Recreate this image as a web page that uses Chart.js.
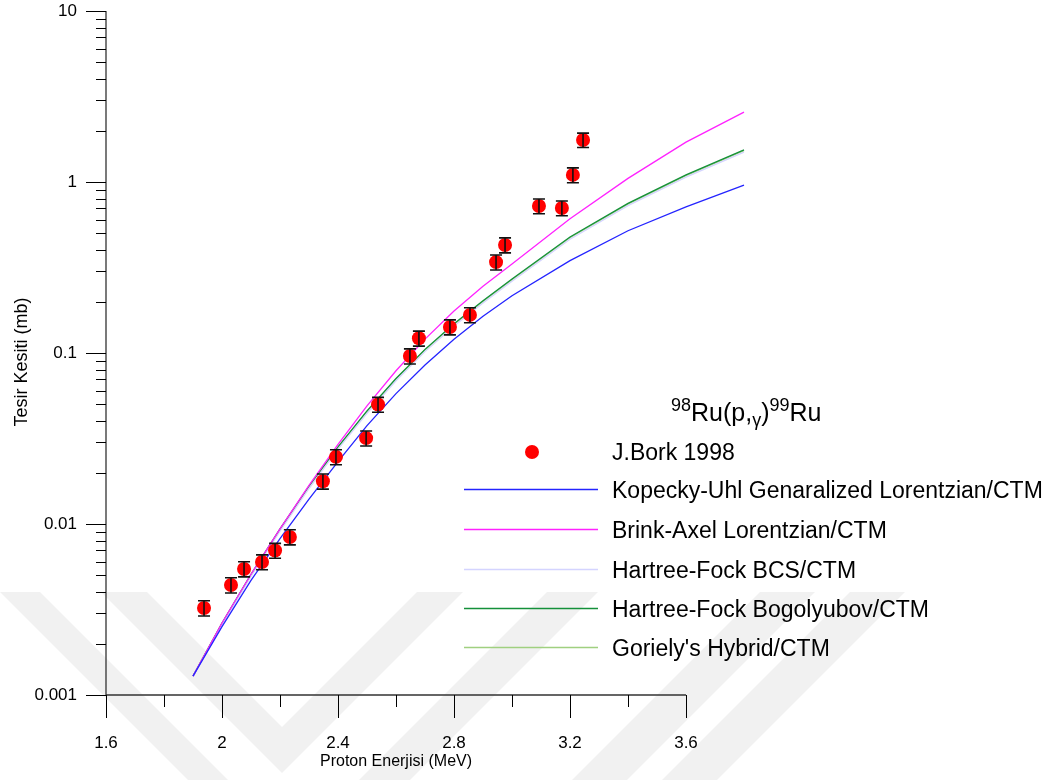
<!DOCTYPE html>
<html>
<head>
<meta charset="utf-8">
<script src="https://cdn.jsdelivr.net/npm/chart.js@4.4.0/dist/chart.umd.min.js"></script>
<style>
  html, body { margin: 0; padding: 0; background: #fff; }
  #wrap { width: 1057px; height: 780px; }
</style>
</head>
<body>
<div id="wrap"><canvas id="xsChart" width="1057" height="780"></canvas></div>
<script>
// J.Bork 1998 deney verileri (MeV, mb)
const borkEnergy = [1.938, 2.031, 2.076, 2.138, 2.183, 2.234, 2.348, 2.393, 2.497, 2.538,
                    2.648, 2.679, 2.786, 2.855, 2.945, 2.976, 3.093, 3.172, 3.210, 3.245];
const borkXs     = [0.00323, 0.0044, 0.00546, 0.0060, 0.0070, 0.0084, 0.0178, 0.0247, 0.0318, 0.050,
                    0.096, 0.122, 0.142, 0.167, 0.340, 0.428, 0.724, 0.705, 1.10, 1.76];
const borkErr    = [0.00033, 0.00045, 0.00055, 0.0006, 0.0007, 0.00085, 0.0018, 0.0025, 0.0032, 0.005,
                    0.0097, 0.0123, 0.0143, 0.0168, 0.034, 0.043, 0.072, 0.070, 0.11, 0.17];

// TALYS hesapları
const modelEnergy = [1.9, 2.0, 2.1, 2.2, 2.3, 2.4, 2.5, 2.6, 2.7, 2.8, 2.9, 3.0, 3.2, 3.4, 3.6, 3.8];
const kopeckyUhl  = [0.00129, 0.00251, 0.00468, 0.00822, 0.01396, 0.02317, 0.03758, 0.0579, 0.0851, 0.1202, 0.164, 0.2163, 0.3467, 0.5188, 0.7145, 0.959];
const brinkAxel   = [0.00129, 0.002636, 0.005082, 0.009354, 0.01683, 0.02924, 0.04909, 0.0787, 0.1205, 0.1762, 0.246, 0.3319, 0.61, 1.05, 1.71, 2.56];
const hfBcs       = [0.00128, 0.00256, 0.00493, 0.00907, 0.01613, 0.02740, 0.04444, 0.06883, 0.1019, 0.1439, 0.1962, 0.2629, 0.463, 0.728, 1.067, 1.494];
const hfBogol     = [0.00129, 0.002636, 0.005082, 0.009354, 0.01663, 0.02825, 0.04581, 0.07096, 0.1050, 0.1483, 0.2023, 0.271, 0.477, 0.75, 1.10, 1.54];
const goriely     = [0.00129, 0.00261, 0.00503, 0.00926, 0.01646, 0.02797, 0.04535, 0.07025, 0.1040, 0.1468, 0.2003, 0.2683, 0.472, 0.742, 1.089, 1.525];

const xTicks = [1.6, 2, 2.4, 2.8, 3.2, 3.6];
const yTicks = [0.001, 0.01, 0.1, 1, 10];

const FONT = '"Liberation Sans", Arial, sans-serif';

function pts(xs, ys) {
  return xs.map((x, i) => ({ x: x, y: ys[i] }));
}

function curve(label, values, color) {
  return {
    label: label,
    data: pts(modelEnergy, values),
    borderColor: color,
    borderWidth: 1.3,
    pointRadius: 0,
    fill: false,
    tension: 0,
    clip: false
  };
}

// arka plandaki silik filigran
const watermark = [
  [[0, 592], [40, 592], [228, 780], [188, 780]],
  [[101, 592], [147, 592], [282, 727], [417, 592], [463, 592], [282, 773]],
  [[547, 592], [598, 592], [410, 780], [359, 780]],
  [[760, 592], [815, 592], [627, 780], [572, 780]],
  [[850, 592], [905, 592], [717, 780], [662, 780]]
];

function drawWatermark(ctx) {
  ctx.save();
  ctx.fillStyle = 'rgba(0,0,0,0.055)';
  watermark.forEach(poly => {
    ctx.beginPath();
    poly.forEach(([x, y], i) => (i ? ctx.lineTo(x, y) : ctx.moveTo(x, y)));
    ctx.closePath();
    ctx.fill();
  });
  ctx.restore();
}

const axesPlugin = {
  id: 'axesPlugin',
  beforeDraw(chart) {
    drawWatermark(chart.ctx);
  },
  afterDatasetsDraw(chart) {
    // hata çubukları
    const ctx = chart.ctx;
    const xs = chart.scales.x, ys = chart.scales.y;
    ctx.save();
    ctx.strokeStyle = '#111';
    ctx.lineWidth = 1.6;
    borkEnergy.forEach((e, i) => {
      const px = xs.getPixelForValue(e);
      const y1 = ys.getPixelForValue(borkXs[i] + borkErr[i]);
      const y2 = ys.getPixelForValue(borkXs[i] - borkErr[i]);
      ctx.beginPath();
      ctx.moveTo(px, y1); ctx.lineTo(px, y2);
      ctx.moveTo(px - 6, y1); ctx.lineTo(px + 6, y1);
      ctx.moveTo(px - 6, y2); ctx.lineTo(px + 6, y2);
      ctx.stroke();
    });
    ctx.restore();
  },
  afterDraw(chart) {
    const ctx = chart.ctx;
    const xs = chart.scales.x, ys = chart.scales.y;
    const x0 = xs.getPixelForValue(xTicks[0]);
    const x1 = xs.getPixelForValue(xTicks[xTicks.length - 1]);
    const y0 = ys.getPixelForValue(yTicks[0]);
    const y1 = ys.getPixelForValue(yTicks[yTicks.length - 1]);

    ctx.save();
    ctx.strokeStyle = '#333';
    ctx.lineWidth = 1.3;
    ctx.beginPath();
    ctx.moveTo(x0, y1); ctx.lineTo(x0, y0);
    ctx.moveTo(x0, y0); ctx.lineTo(x1, y0);
    ctx.stroke();

    ctx.strokeStyle = '#000';
    ctx.lineWidth = 1;
    ctx.beginPath();
    // x ekseni: büyük ve küçük çentikler
    xTicks.forEach((v, i) => {
      const p = Math.round(xs.getPixelForValue(v)) + 0.5;
      ctx.moveTo(p, y0); ctx.lineTo(p, y0 + 23);
      if (i < xTicks.length - 1) {
        const m = Math.round(xs.getPixelForValue((v + xTicks[i + 1]) / 2)) + 0.5;
        ctx.moveTo(m, y0); ctx.lineTo(m, y0 + 12);
      }
    });
    // y ekseni: onluk ve ara çentikler
    yTicks.forEach((v, i) => {
      const p = Math.round(ys.getPixelForValue(v)) + 0.5;
      ctx.moveTo(x0, p); ctx.lineTo(x0 - 20, p);
      if (i < yTicks.length - 1) {
        for (let k = 2; k <= 9; k++) {
          const m = Math.round(ys.getPixelForValue(v * k)) + 0.5;
          ctx.moveTo(x0, m); ctx.lineTo(x0 - 10, m);
        }
      }
    });
    ctx.stroke();

    // eksen başlıkları
    ctx.fillStyle = '#000';
    ctx.textAlign = 'center';
    ctx.textBaseline = 'middle';
    ctx.font = '16px ' + FONT;
    ctx.fillText('Proton Enerjisi (MeV)', (x0 + x1) / 2, 762);
    ctx.save();
    ctx.translate(22, 362);
    ctx.rotate(-Math.PI / 2);
    ctx.font = '18px ' + FONT;
    ctx.fillText('Tesir Kesiti (mb)', 0, 0);
    ctx.restore();

    // lejant başlığı: 98Ru(p,γ)99Ru
    ctx.textAlign = 'left';
    ctx.textBaseline = 'alphabetic';
    const big = '25px ' + FONT, small = '18px ' + FONT;
    const parts = [
      ['98', small, 411], ['Ru(p,', big, 421], ['\u03b3', small, 426],
      [')', big, 421], ['99', small, 411], ['Ru', big, 421]
    ];
    let tx = 671;
    parts.forEach(([t, f, by]) => {
      ctx.font = f;
      ctx.fillText(t, tx, by);
      tx += ctx.measureText(t).width;
    });

    // lejant satırları
    const items = chart.data.datasets;
    ctx.font = '23px ' + FONT;
    ctx.fillStyle = items[0].backgroundColor;
    ctx.beginPath();
    ctx.arc(532, 452, 7, 0, Math.PI * 2);
    ctx.fill();
    ctx.fillStyle = '#000';
    ctx.fillText(items[0].label, 612, 460);
    const rowY = [489, 529, 569, 608, 647];
    items.slice(1).forEach((ds, i) => {
      ctx.strokeStyle = ds.borderColor;
      ctx.lineWidth = 1.5;
      ctx.beginPath();
      ctx.moveTo(464, rowY[i] + 0.5);
      ctx.lineTo(598, rowY[i] + 0.5);
      ctx.stroke();
      ctx.fillStyle = '#000';
      ctx.fillText(ds.label, 612, rowY[i] + 9);
    });
    ctx.restore();
  }
};

const bork = {
  label: 'J.Bork 1998',
  data: pts(borkEnergy, borkXs),
  showLine: false,
  pointRadius: 7,
  pointHoverRadius: 7,
  backgroundColor: '#ff0000',
  borderColor: '#ff0000',
  pointBorderWidth: 0
};

const ku = curve('Kopecky-Uhl Genaralized Lorentzian/CTM', kopeckyUhl, '#2424ff');
const ba = curve('Brink-Axel Lorentzian/CTM', brinkAxel, '#ff22ff');
const bcs = curve('Hartree-Fock BCS/CTM', hfBcs, '#d4d4ff');
const hfb = curve('Hartree-Fock Bogolyubov/CTM', hfBogol, '#14903a');
const gor = curve("Goriely's Hybrid/CTM", goriely, '#a0d080');

// Chart.js etiket boşluğunu kapat, grafik alanı sabit kalsın
function noPad(scale) {
  scale.paddingTop = 0;
  scale.paddingBottom = 0;
  scale.paddingLeft = 0;
  scale.paddingRight = 0;
}

new Chart(document.getElementById('xsChart'), {
  type: 'line',
  // ilk eleman en üstte çizilir
  data: { datasets: [bork, ku, ba, bcs, hfb, gor] },
  plugins: [axesPlugin],
  options: {
    responsive: false,
    animation: false,
    devicePixelRatio: 1,
    layout: { padding: { left: 0, top: 11, right: 313, bottom: 0 } },
    plugins: {
      legend: { display: false },
      tooltip: { enabled: false }
    },
    scales: {
      x: {
        type: 'linear',
        min: 1.6,
        max: 3.8,
        grid: { display: false, drawTicks: false },
        border: { display: false },
        afterFit(scale) { scale.height = 85; noPad(scale); },
        afterBuildTicks(scale) { scale.ticks = xTicks.map(v => ({ value: v })); },
        ticks: {
          padding: 38,
          color: '#000',
          font: { family: FONT, size: 17 },
          maxRotation: 0,
          callback: v => String(v)
        }
      },
      y: {
        type: 'logarithmic',
        min: 0.001,
        max: 10,
        grid: { display: false, drawTicks: false },
        border: { display: false },
        afterFit(scale) { scale.width = 106; noPad(scale); },
        afterBuildTicks(scale) { scale.ticks = yTicks.map(v => ({ value: v })); },
        ticks: {
          padding: 29,
          color: '#000',
          font: { family: FONT, size: 17 },
          callback: v => String(v)
        }
      }
    }
  }
});
</script>
</body>
</html>
